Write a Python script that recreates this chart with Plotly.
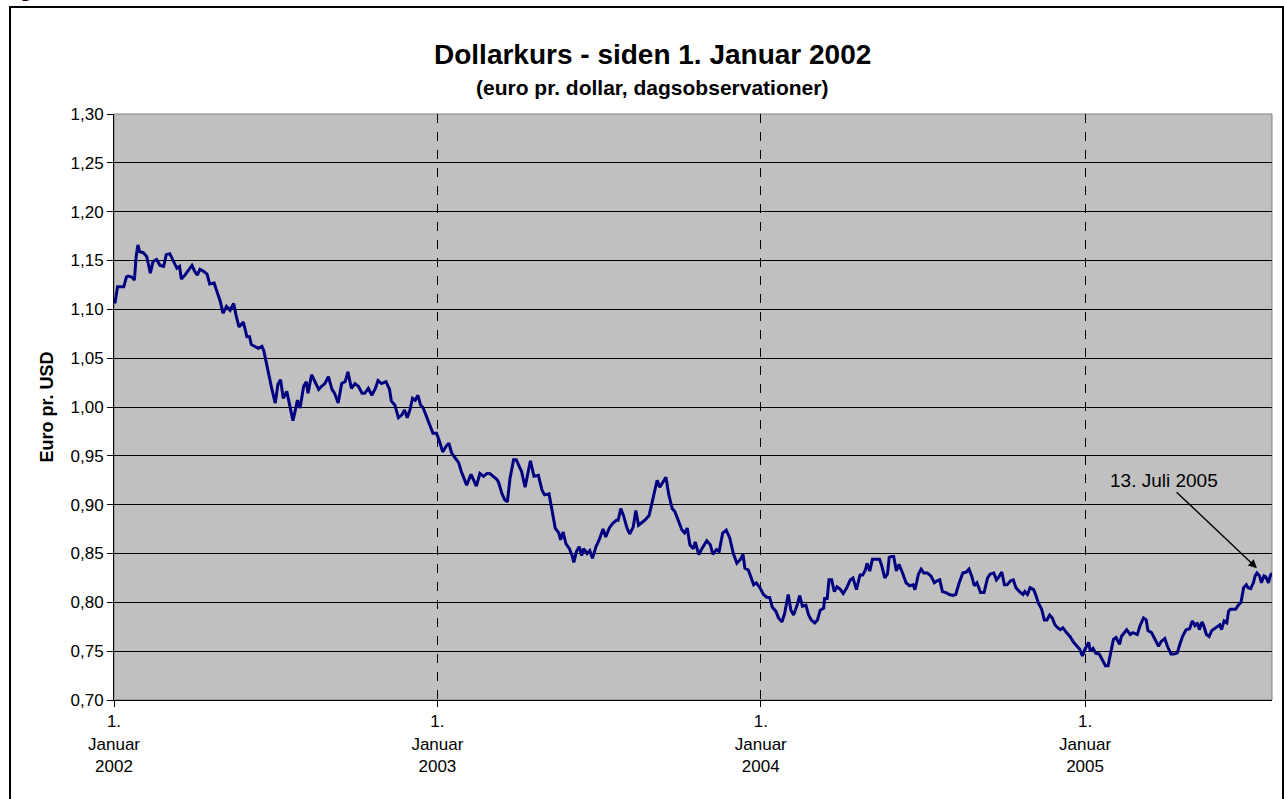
import pandas as pd
import plotly.graph_objects as go

# days after 1 Jan 2002
day_offset = [
    1, 4, 11, 14, 16, 20, 23, 25, 27, 29, 33, 37, 41, 44, 48, 52, 56, 59, 63, 67,
    71, 74, 76, 80, 84, 88, 91, 94, 97, 101, 105, 108, 113, 117, 120, 123, 127, 131, 135, 138,
    141, 146, 150, 153, 155, 159, 163, 167, 169, 172, 175, 178, 182, 185, 188, 191, 195, 199, 202, 204,
    207, 210, 214, 217, 219, 223, 227, 231, 234, 238, 242, 246, 249, 253, 257, 261, 264, 268, 272, 276,
    280, 283, 287, 291, 295, 298, 302, 307, 311, 313, 317, 321, 325, 328, 331, 334, 337, 340, 343, 346,
    349, 353, 357, 360, 364, 367, 371, 375, 378, 381, 385, 389, 392, 398, 403, 406, 409, 413, 417, 421,
    424, 428, 432, 434, 438, 441, 444, 447, 451, 454, 458, 460, 464, 468, 470, 474, 479, 483, 486, 491,
    494, 498, 502, 504, 507, 510, 514, 517, 519, 522, 525, 528, 530, 534, 537, 540, 544, 548, 552, 555,
    559, 563, 567, 569, 572, 575, 579, 582, 586, 589, 592, 596, 599, 604, 607, 611, 613, 616, 619, 623,
    626, 630, 633, 637, 641, 644, 647, 650, 654, 656, 660, 663, 669, 673, 676, 680, 683, 687, 691, 695,
    699, 703, 707, 710, 712, 716, 719, 722, 725, 729, 733, 737, 740, 743, 747, 750, 754, 757, 761, 764,
    767, 771, 774, 777, 781, 784, 787, 791, 794, 797, 801, 802, 805, 807, 810, 813, 816, 820, 823, 827,
    831, 834, 838, 842, 845, 848, 850, 853, 856, 861, 864, 866, 870, 873, 875, 878, 880, 883, 886, 890,
    894, 898, 902, 904, 908, 911, 914, 918, 922, 926, 929, 932, 935, 939, 943, 947, 950, 954, 958, 962,
    965, 968, 971, 974, 978, 982, 986, 989, 993, 996, 998, 1002, 1005, 1008, 1012, 1015, 1018, 1022, 1026, 1028,
    1031, 1034, 1038, 1041, 1043, 1047, 1050, 1053, 1056, 1059, 1062, 1065, 1068, 1071, 1073, 1075, 1079, 1083, 1087, 1090,
    1093, 1096, 1100, 1102, 1105, 1108, 1112, 1115, 1119, 1122, 1125, 1128, 1131, 1135, 1137, 1141, 1143, 1147, 1150, 1155,
    1158, 1162, 1165, 1167, 1171, 1175, 1179, 1182, 1186, 1189, 1193, 1196, 1200, 1203, 1206, 1210, 1214, 1217, 1220, 1223,
    1225, 1228, 1230, 1233, 1236, 1239, 1242, 1245, 1248, 1250, 1253, 1256, 1258, 1260, 1263, 1266, 1269, 1272, 1275, 1278,
    1280, 1283, 1286, 1288, 1290, 1293, 1295, 1298, 1300, 1303, 1305, 1307,
]

eur_per_usd = [
    1.106, 1.123, 1.123, 1.133, 1.134, 1.133, 1.130, 1.154, 1.166, 1.159, 1.158, 1.154, 1.137, 1.149, 1.151, 1.145, 1.144, 1.156, 1.157, 1.149,
    1.142, 1.144, 1.131, 1.135, 1.140, 1.145, 1.139, 1.135, 1.141, 1.139, 1.136, 1.126, 1.127, 1.115, 1.108, 1.096, 1.103, 1.099, 1.106, 1.093,
    1.082, 1.087, 1.072, 1.072, 1.064, 1.062, 1.060, 1.062, 1.058, 1.045, 1.031, 1.019, 1.004, 1.023, 1.028, 1.009, 1.016, 0.997, 0.986, 0.994,
    1.007, 0.999, 1.021, 1.026, 1.014, 1.033, 1.026, 1.018, 1.021, 1.024, 1.031, 1.018, 1.014, 1.004, 1.024, 1.026, 1.036, 1.019, 1.024, 1.021,
    1.014, 1.014, 1.019, 1.012, 1.019, 1.027, 1.024, 1.026, 1.018, 1.006, 1.002, 0.989, 0.992, 0.997, 0.989, 0.997, 1.009, 1.007, 1.012, 1.002,
    0.999, 0.990, 0.980, 0.973, 0.973, 0.966, 0.954, 0.960, 0.963, 0.953, 0.948, 0.943, 0.934, 0.920, 0.931, 0.924, 0.919, 0.932, 0.929, 0.932,
    0.932, 0.929, 0.926, 0.923, 0.911, 0.905, 0.903, 0.927, 0.946, 0.946, 0.937, 0.934, 0.918, 0.934, 0.945, 0.929, 0.930, 0.915, 0.910, 0.911,
    0.894, 0.876, 0.871, 0.864, 0.872, 0.860, 0.855, 0.848, 0.841, 0.852, 0.857, 0.848, 0.855, 0.850, 0.853, 0.845, 0.857, 0.865, 0.875, 0.867,
    0.876, 0.881, 0.884, 0.884, 0.896, 0.889, 0.876, 0.870, 0.877, 0.894, 0.879, 0.882, 0.884, 0.889, 0.901, 0.917, 0.925, 0.918, 0.922, 0.928,
    0.911, 0.896, 0.893, 0.884, 0.874, 0.871, 0.876, 0.859, 0.855, 0.862, 0.849, 0.854, 0.863, 0.859, 0.849, 0.854, 0.852, 0.871, 0.874, 0.866,
    0.850, 0.840, 0.844, 0.849, 0.835, 0.833, 0.825, 0.818, 0.820, 0.815, 0.808, 0.805, 0.805, 0.795, 0.791, 0.784, 0.780, 0.789, 0.808, 0.792,
    0.787, 0.797, 0.807, 0.796, 0.797, 0.787, 0.782, 0.779, 0.782, 0.792, 0.794, 0.804, 0.804, 0.823, 0.823, 0.811, 0.816, 0.813, 0.809, 0.815,
    0.823, 0.825, 0.813, 0.828, 0.828, 0.833, 0.840, 0.832, 0.844, 0.844, 0.844, 0.839, 0.825, 0.829, 0.846, 0.847, 0.847, 0.832, 0.839, 0.830,
    0.820, 0.817, 0.818, 0.813, 0.829, 0.834, 0.830, 0.830, 0.827, 0.820, 0.822, 0.823, 0.811, 0.810, 0.808, 0.807, 0.808, 0.820, 0.830, 0.831,
    0.834, 0.827, 0.817, 0.820, 0.810, 0.810, 0.825, 0.829, 0.830, 0.823, 0.825, 0.831, 0.818, 0.818, 0.822, 0.823, 0.815, 0.811, 0.808, 0.811,
    0.808, 0.815, 0.813, 0.806, 0.800, 0.793, 0.782, 0.782, 0.787, 0.784, 0.777, 0.774, 0.772, 0.774, 0.771, 0.769, 0.765, 0.759, 0.755, 0.752,
    0.745, 0.752, 0.759, 0.750, 0.753, 0.748, 0.747, 0.742, 0.735, 0.735, 0.748, 0.762, 0.764, 0.757, 0.765, 0.769, 0.772, 0.767, 0.769, 0.767,
    0.776, 0.784, 0.782, 0.771, 0.769, 0.762, 0.755, 0.760, 0.763, 0.755, 0.747, 0.747, 0.748, 0.757, 0.765, 0.772, 0.773, 0.781, 0.776, 0.779,
    0.772, 0.780, 0.776, 0.767, 0.765, 0.771, 0.773, 0.775, 0.777, 0.772, 0.781, 0.779, 0.791, 0.793, 0.793, 0.793, 0.797, 0.800, 0.815, 0.818,
    0.815, 0.814, 0.820, 0.827, 0.830, 0.827, 0.820, 0.827, 0.826, 0.820, 0.827, 0.830,
]

start_date = "2002-01-01"
end_date = "2005-07-31"
year_ticks = ["2002-01-01", "2003-01-01", "2004-01-01", "2005-01-01"]
year_labels = ["1.<br>Januar<br>2002", "1.<br>Januar<br>2003", "1.<br>Januar<br>2004", "1.<br>Januar<br>2005"]
y_ticks = [0.70, 0.75, 0.80, 0.85, 0.90, 0.95, 1.00, 1.05, 1.10, 1.15, 1.20, 1.25, 1.30]

title_text = "Dollarkurs - siden 1. Januar 2002"
subtitle_text = "(euro pr. dollar, dagsobservationer)"
note_date = "2005-07-14"
note_value = 0.835
note_text = "13. Juli 2005"

dates = pd.Timestamp(start_date) + pd.to_timedelta(day_offset, unit="D")

FONT = "Arial, Liberation Sans, sans-serif"

fig = go.Figure()
fig.add_trace(go.Scatter(x=dates, y=eur_per_usd, mode="lines",
                         line=dict(color="#000080", width=3), hoverinfo="x+y"))

fig.update_layout(
    width=1284, height=799,
    margin=dict(l=114, r=12, t=114, b=99),
    paper_bgcolor="white", plot_bgcolor="#C0C0C0",
    separators=", ",
    showlegend=False,
    font=dict(family=FONT, size=17, color="black"),
    xaxis=dict(type="date", range=[start_date, end_date],
               tickvals=year_ticks, ticktext=year_labels,
               showgrid=True, gridcolor="black", gridwidth=1, griddash="dash",
               ticks="outside", ticklen=6, tickcolor="black",
               showline=True, linecolor="black", linewidth=1,
               tickfont=dict(size=17), zeroline=False),
    yaxis=dict(range=[0.70, 1.30], tickvals=y_ticks, tickformat=".2f",
               showgrid=True, gridcolor="black", gridwidth=1,
               ticks="outside", ticklen=6, tickcolor="black",
               showline=True, linecolor="black", linewidth=1,
               tickfont=dict(size=17),
               title=dict(text="<b>Euro pr. USD</b>", font=dict(size=18), standoff=12),
               zeroline=False),
)

# plot area border (grey on the right, as in the original)
fig.add_shape(type="rect", xref="paper", yref="paper", x0=0, x1=1, y0=0, y1=1,
              line=dict(color="#808080", width=1), layer="below")

# outer frame around the figure
fig.add_shape(type="rect", xref="paper", yref="paper", x0=-0.0898, x1=1.0095, y0=-0.19, y1=1.1826,
              line=dict(color="black", width=2))

# title and subtitle
fig.add_annotation(text=f"<b>{title_text}</b>", xref="paper", yref="paper", x=0.4646, y=1.1007,
                   xanchor="center", yanchor="middle", showarrow=False,
                   font=dict(family=FONT, size=28, color="black"))
fig.add_annotation(text=f"<b>{subtitle_text}</b>", xref="paper", yref="paper", x=0.4646, y=1.0444,
                   xanchor="center", yanchor="middle", showarrow=False,
                   font=dict(family=FONT, size=21, color="black"))

# caption above the frame, mostly cut off at the top of the page
fig.add_annotation(text="<b>Figur 2:</b>", xref="paper", yref="paper", x=-0.098, y=1.19,
                   xanchor="left", yanchor="bottom", showarrow=False,
                   font=dict(family="Liberation Serif, Times New Roman, serif", size=20, color="black"))

fig.add_annotation(x=note_date, y=note_value, text=note_text, showarrow=True,
                   arrowhead=2, arrowsize=1.2, arrowwidth=1.4, arrowcolor="black",
                   ax=-93, ay=-88, font=dict(family=FONT, size=19, color="black"))

fig.write_html("out.html", config={"displayModeBar": False},
               post_script="document.body.style.margin='0px';")
